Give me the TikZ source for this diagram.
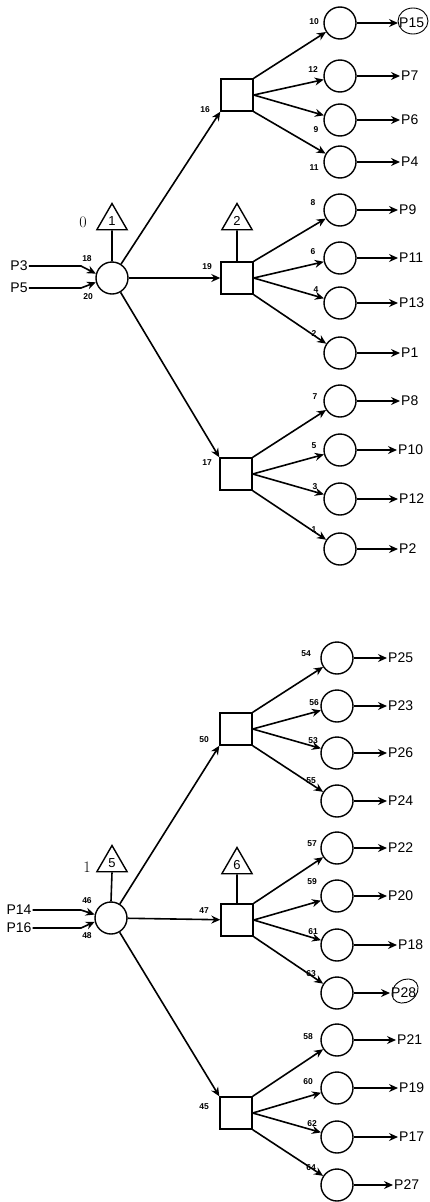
\documentclass[tikz,border=0pt]{standalone}
\usepackage{fontspec}
\setsansfont{Liberation Sans}
\usetikzlibrary{arrows.meta,shapes.geometric}
\tikzset{
  lw/.style={line width=1.6pt},
  circ/.style={circle,draw,line width=1.4pt,minimum size=32pt,inner sep=0pt},
  sq/.style={rectangle,draw,line width=1.4pt,minimum size=32pt,inner sep=0pt},
  tri/.style={regular polygon,regular polygon sides=3,draw,line width=1.4pt,minimum size=35pt,inner sep=0pt,font=\sffamily\fontsize{13}{13}\selectfont},
  num/.style={font=\sffamily\bfseries\fontsize{8.5}{8.5}\selectfont,inner sep=0pt},
  plab/.style={font=\sffamily\fontsize{14}{14}\selectfont,anchor=west,inner sep=1pt},
  inlab/.style={font=\sffamily\fontsize{14}{14}\selectfont,inner sep=1pt},
  serif/.style={font=\fontsize{16}{16}\selectfont,inner sep=0pt},
  arr/.style={lw,-{Stealth[length=9pt,width=8pt,inset=3pt]}},
  ln/.style={lw},
  loop/.style={line width=0.9pt}
}
\begin{document}
\begin{tikzpicture}[x=1pt,y=-1pt]
\useasboundingbox (0,0) rectangle (429,1202);

% ================= TOP GROUP =================
\node[circ] (A) at (112,278) {};
\node[tri] (T1) at (112,221) {1};
\node[serif] (z0) at (83,222) {0};
\node[sq] (S1) at (237,95) {};
\node[sq] (S2) at (237,278) {};
\node[sq] (S3) at (236,474) {};
\node[tri] (T2) at (237,221) {2};

\node[inlab] (P3) at (19,266) {P3};
\node[inlab] (P5) at (19,288) {P5};
\node[num] (n18) at (87,259) {18};
\node[num] (n20) at (88,297) {20};
\draw[arr] (P3.east) -- (81,266) -- (A.165);
\draw[arr] (P5.east) -- (81,288) -- (A.195);
\draw[ln] (T1.south) -- (A.north);
\draw[ln] (T2.south) -- (S2.north);

\draw[arr] (A) -- (S1.south west);
\draw[arr] (A) -- (S2);
\draw[arr] (A) -- (S3.north west);
\node[num] (n16) at (205,110) {16};
\node[num] (n19) at (207,267) {19};
\node[num] (n17) at (207,463) {17};

% right column
\foreach \i/\y/\n/\nx/\ny/\p/\px in {
  1/23/10/314/22/P15/398,
  2/76/12/313/70/P7/400,
  3/120/9/316/130/P6/400,
  4/162/11/314/168/P4/400,
  5/210/8/313/203/P9/398,
  6/258/6/313/252/P11/398,
  7/303/4/316/290/P13/398,
  8/353/2/314/334/P1/400,
  9/401/7/315/397/P8/400,
  10/450/5/314/446/P10/397,
  11/499/3/315/487/P12/398,
  12/549/1/314/530/P2/398}{
  \node[circ] (c\i) at (340,\y) {};
  \node[num] (m\i) at (\nx,\ny) {\n};
  \node[plab] (L\i) at (\px,\y) {\p};
  \draw[arr] (c\i.east) -- (c\i.east -| L\i.west);
}
\draw[arr] (S1.north east) -- (c1);
\draw[arr] (S1.east) -- (c2);
\draw[arr] (S1.east) -- (c3);
\draw[arr] (S1.south east) -- (c4);
\draw[arr] (S2.north east) -- (c5);
\draw[arr] (S2.east) -- (c6);
\draw[arr] (S2.east) -- (c7);
\draw[arr] (S2.south east) -- (c8);
\draw[arr] (S3.north east) -- (c9);
\draw[arr] (S3.east) -- (c10);
\draw[arr] (S3.east) -- (c11);
\draw[arr] (S3.south east) -- (c12);
\draw[loop] (413,21) ellipse [x radius=15, y radius=13];

% ================= BOTTOM GROUP =================
\node[circ] (B) at (111,918) {};
\node[tri] (T5) at (112,863) {5};
\node[serif] (z1) at (87,867) {1};
\node[sq] (S50) at (236,729) {};
\node[sq] (S47) at (237,920) {};
\node[sq] (S45) at (236,1113) {};
\node[tri] (T6) at (237,865) {6};

\node[inlab] (P14) at (19,910) {P14};
\node[inlab] (P16) at (19,928) {P16};
\node[num] (n46) at (87,901) {46};
\node[num] (n48) at (87,936) {48};
\draw[arr] (P14.east) -- (81,910) -- (B.168);
\draw[arr] (P16.east) -- (81,928) -- (B.193);
\draw[ln] (T5.south) -- (B.north);
\draw[ln] (T6.south) -- (S47.north);

\draw[arr] (B) -- (S50.south west);
\draw[arr] (B) -- (S47);
\draw[arr] (B) -- (S45.north west);
\node[num] (n50) at (204,740) {50};
\node[num] (n47) at (204,911) {47};
\node[num] (n45) at (204,1107) {45};

\foreach \i/\y/\n/\nx/\ny/\p/\px in {
  1/658/54/306/654/P25/387,
  2/706/56/314/703/P23/387,
  3/753/53/313/741/P26/387,
  4/801/55/311/781/P24/387,
  5/848/57/312/844/P22/387,
  6/896/59/312/882/P20/387,
  7/945/61/313/932/P18/397,
  8/993/63/311/974/P28/390,
  9/1040/58/308/1037/P21/396,
  10/1088/60/308/1082/P19/398,
  11/1137/62/312/1124/P17/398,
  12/1185/64/311/1168/P27/393}{
  \node[circ] (d\i) at (337,\y) {};
  \node[num] (k\i) at (\nx,\ny) {\n};
  \node[plab] (Q\i) at (\px,\y) {\p};
  \draw[arr] (d\i.east) -- (d\i.east -| Q\i.west);
}
\draw[arr] (S50.north east) -- (d1);
\draw[arr] (S50.east) -- (d2);
\draw[arr] (S50.east) -- (d3);
\draw[arr] (S50.south east) -- (d4);
\draw[arr] (S47.north east) -- (d5);
\draw[arr] (S47.east) -- (d6);
\draw[arr] (S47.east) -- (d7);
\draw[arr] (S47.south east) -- (d8);
\draw[arr] (S45.north east) -- (d9);
\draw[arr] (S45.east) -- (d10);
\draw[arr] (S45.east) -- (d11);
\draw[arr] (S45.south east) -- (d12);
\draw[loop,rotate around={35:(405,991)}] (405,991) ellipse [x radius=14, y radius=11];
\end{tikzpicture}
\end{document}
